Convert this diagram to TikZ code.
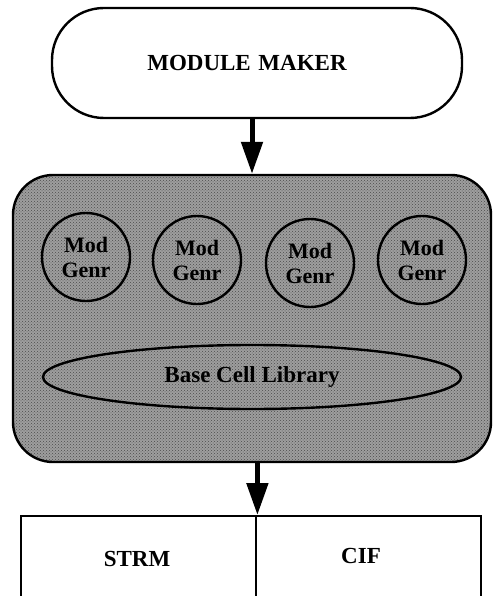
\documentclass[tikz,border=0pt]{standalone}
\usepackage{fontspec}
\setmainfont{Liberation Serif}
\usetikzlibrary{arrows.meta,shapes.geometric,patterns}
\begin{document}
\begin{tikzpicture}[x=1pt,y=-1pt,
  outl/.style={draw=black,line width=2.4pt},
  bigfont/.style={font=\fontsize{23}{25}\selectfont\bfseries},
  pill/.style={outl,bigfont,rounded corners=52pt,minimum width=410pt,minimum height=110pt,inner sep=0pt,text width=390pt,align=center},
  shade/.style={outl,preaction={fill=black!38},pattern=crosshatch dots,pattern color=black!70},
  gencircle/.style={outl,circle,minimum size=88pt,inner sep=0pt,align=center,font=\fontsize{22}{25}\selectfont\bfseries},
  libell/.style={outl,bigfont,ellipse,minimum width=418pt,minimum height=64pt,inner sep=0pt},
  outbox/.style={outl,rectangle,minimum height=140pt,anchor=north west,inner sep=0pt},
  bigarrow/.style={line width=5pt,-{Triangle[length=32pt,width=21pt]}}]
\useasboundingbox (0,0) rectangle (492,596);
\clip (0,0) rectangle (492,596);
\node[pill] (mm) at (257,63) {\hspace*{-20pt}MODULE MAKER};
\node[shade,rectangle,rounded corners=40pt,minimum width=478pt,minimum height=287pt,inner sep=0pt] (gen) at (252,318.5) {};
\node[gencircle] (g1) at (86,257) {Mod\\Genr};
\node[gencircle] (g2) at (197,260) {Mod\\Genr};
\node[gencircle] (g3) at (310,263) {Mod\\Genr};
\node[gencircle] (g4) at (422,260) {Mod\\Genr};
\node[libell] (lib) at (252,377) {Base Cell Library};
\node[outbox,minimum width=235pt] (strm) at (20,515) {};
\node[outbox,minimum width=225pt] (cif) at (255,515) {};
\node[bigfont] (strmt) at (137,559) {STRM};
\node[bigfont] (ciflab) at (361,556) {CIF};
\coordinate (ax) at (252,0);
\draw[bigarrow] (mm.south -| ax) -- (gen.north -| ax);
\draw[bigarrow] (gen.south -| strm.north east) -- (strm.north east);
\end{tikzpicture}
\end{document}
